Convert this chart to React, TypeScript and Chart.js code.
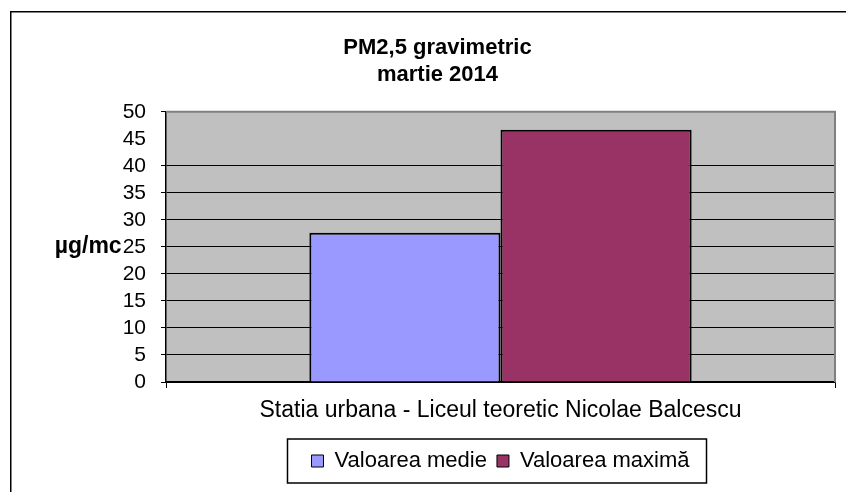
import { useEffect, useRef } from 'react';
import { Chart, registerables } from 'chart.js';

Chart.register(...registerables);

const categories = ['Statia urbana - Liceul teoretic Nicolae Balcescu'];
const seriesNames = ['Valoarea medie', 'Valoarea maximă'];
const valoareaMedie = [27.6];
const valoareaMaxima = [46.7];
const titleLines = ['PM2,5 gravimetric', 'martie 2014'];
const yUnit = 'µg/mc';
const yMin = 0;
const yMax = 50;
const yStep = 5;

const FONT = "'Liberation Sans', Arial, Helvetica, sans-serif";

const framePlugin = {
  id: 'frame',
  beforeDraw(chart: any) {
    const { ctx, chartArea } = chart;
    ctx.save();
    ctx.fillStyle = '#ffffff';
    ctx.fillRect(0, 0, chart.width, chart.height);
    // outer border (left + top)
    ctx.strokeStyle = '#000';
    ctx.lineWidth = 1.5;
    ctx.beginPath();
    ctx.moveTo(10.75, chart.height);
    ctx.lineTo(10.75, 11.75);
    ctx.lineTo(chart.width, 11.75);
    ctx.stroke();
    // plot background
    ctx.fillStyle = '#c0c0c0';
    ctx.fillRect(chartArea.left, chartArea.top, chartArea.right - chartArea.left, chartArea.bottom - chartArea.top);
    ctx.restore();
  },
  afterDraw(chart: any) {
    const { ctx, chartArea } = chart;
    ctx.save();
    // gray top & right plot border
    ctx.strokeStyle = '#808080';
    ctx.lineWidth = 2;
    ctx.beginPath();
    ctx.moveTo(chartArea.left, chartArea.top);
    ctx.lineTo(chartArea.right, chartArea.top);
    ctx.lineTo(chartArea.right, chartArea.bottom);
    ctx.stroke();

    // horizontal y-unit label
    const yScale = chart.scales.y;
    ctx.font = `21px ${FONT}`;
    const w25 = ctx.measureText('25').width;
    const labelsRight = chartArea.left - 5 - 15;
    ctx.font = `bold 23px ${FONT}`;
    ctx.fillStyle = '#000';
    ctx.textAlign = 'right';
    ctx.textBaseline = 'middle';
    ctx.fillText(yUnit, labelsRight - w25 - 1, yScale.getPixelForValue(25));

    // legend frame
    const hb = chart.legend && chart.legend.legendHitBoxes;
    if (hb && hb.length) {
      const first = hb[0];
      const last = hb[hb.length - 1];
      const left = first.left - 24;
      const right = last.left + last.width + 17;
      const top = first.top - 11;
      ctx.strokeStyle = '#000';
      ctx.lineWidth = 1.5;
      ctx.strokeRect(left, top, right - left, 44);
    }
    ctx.restore();
  },
};

export default function App() {
  const ref = useRef<HTMLCanvasElement | null>(null);

  useEffect(() => {
    if (!ref.current) return;
    Chart.defaults.color = '#000';
    const chart = new Chart(ref.current, {
      type: 'bar',
      data: {
        labels: categories,
        datasets: [
          {
            label: seriesNames[0],
            data: valoareaMedie,
            backgroundColor: '#9999ff',
            borderColor: '#000',
            borderWidth: 2,
            categoryPercentage: 1 / 1.75,
            barPercentage: 1,
          },
          {
            label: seriesNames[1],
            data: valoareaMaxima,
            backgroundColor: '#993366',
            borderColor: '#000',
            borderWidth: 2,
            categoryPercentage: 1 / 1.75,
            barPercentage: 1,
          },
        ],
      },
      options: {
        responsive: false,
        animation: false,
        devicePixelRatio: 1,
        layout: { padding: { left: 40, right: 11, top: 0, bottom: 10 } },
        plugins: {
          title: {
            display: true,
            text: titleLines,
            color: '#000',
            font: { family: FONT, size: 22, weight: 'bold', lineHeight: 1.2 },
            padding: { top: 35, bottom: 24 },
          },
          legend: {
            display: true,
            position: 'bottom',
            fullSize: false,
            labels: {
              color: '#000',
              font: { family: FONT, size: 22 },
              boxWidth: 12,
              boxHeight: 12,
              padding: 10,
              generateLabels: (c: any) =>
                (Chart.defaults.plugins.legend.labels as any)
                  .generateLabels(c)
                  .map((l: any) => ({ ...l, lineWidth: 1 })),
            },
          },
          tooltip: { enabled: false },
        },
        scales: {
          x: {
            grid: {
              display: true,
              drawOnChartArea: false,
              drawTicks: true,
              tickLength: 6,
              color: '#000',
            },
            border: { display: true, color: '#000', width: 1.5 },
            ticks: {
              color: '#000',
              font: { family: FONT, size: 23 },
              padding: 9,
            },
            afterFit: (scale: any) => {
              scale.height = 58;
            },
          },
          y: {
            min: yMin,
            max: yMax,
            grid: {
              color: (ctx: any) =>
                ctx.tick && (ctx.tick.value === 45 || ctx.tick.value === 50) ? 'rgba(0,0,0,0)' : '#000',
              tickColor: (ctx: any) =>
                ctx.tick && ctx.tick.value === 45 ? 'rgba(0,0,0,0)' : '#000',
              lineWidth: 1,
              tickLength: 5,
            },
            border: { display: true, color: '#000', width: 1.5 },
            ticks: {
              stepSize: yStep,
              autoSkip: false,
              color: '#000',
              font: { family: FONT, size: 21 },
              padding: 15,
            },
            afterFit: (scale: any) => {
              scale.width = 126;
            },
          },
        },
      },
      plugins: [framePlugin],
    } as any);
    return () => chart.destroy();
  }, []);

  return (
    <div style={{ position: 'fixed', left: 0, top: 0, width: 846, height: 492, background: '#fff' }}>
      <canvas ref={ref} width={846} height={492} style={{ display: 'block', width: 846, height: 492 }} />
    </div>
  );
}
